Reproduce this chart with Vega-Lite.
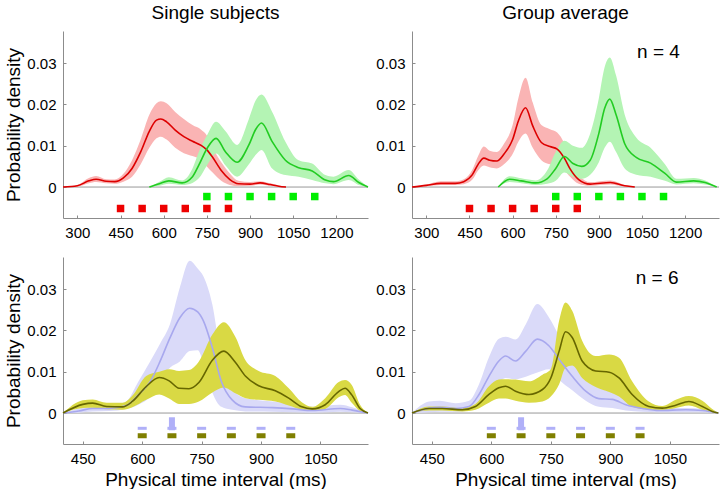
{
  "$schema": "https://vega.github.io/schema/vega-lite/v6.json",
  "padding": {"left": 4, "top": 4, "right": 0, "bottom": 0},
  "datasets": {
    "tl": [
      {"s":"red","x":250,"m":0,"lo":0,"hi":0},{"s":"red","x":300,"m":0.0003,"lo":0.0001,"hi":0.0005},{"s":"red","x":340,"m":0.0015,"lo":0.0009,"hi":0.0022},{"s":"red","x":365,"m":0.0019,"lo":0.0012,"hi":0.0027},{"s":"red","x":400,"m":0.0014,"lo":0.0009,"hi":0.0019},{"s":"red","x":430,"m":0.0013,"lo":0.0008,"hi":0.0018},{"s":"red","x":460,"m":0.0022,"lo":0.0013,"hi":0.0032},{"s":"red","x":490,"m":0.0045,"lo":0.0025,"hi":0.0065},{"s":"red","x":520,"m":0.0085,"lo":0.0055,"hi":0.0115},{"s":"red","x":550,"m":0.0135,"lo":0.0095,"hi":0.0175},{"s":"red","x":575,"m":0.0162,"lo":0.0118,"hi":0.0203},{"s":"red","x":590,"m":0.0165,"lo":0.0122,"hi":0.0208},{"s":"red","x":610,"m":0.0158,"lo":0.0115,"hi":0.0203},{"s":"red","x":640,"m":0.0138,"lo":0.0095,"hi":0.0182},{"s":"red","x":670,"m":0.0122,"lo":0.0082,"hi":0.0165},{"s":"red","x":700,"m":0.0111,"lo":0.0075,"hi":0.015},{"s":"red","x":730,"m":0.0101,"lo":0.0065,"hi":0.0139},{"s":"red","x":750,"m":0.009,"lo":0.005,"hi":0.0125},{"s":"red","x":770,"m":0.0072,"lo":0.0035,"hi":0.0095},{"s":"red","x":800,"m":0.004,"lo":0.0015,"hi":0.006},{"s":"red","x":830,"m":0.0018,"lo":0.0005,"hi":0.0033},{"s":"red","x":860,"m":0.0008,"lo":0.0002,"hi":0.0015},{"s":"red","x":900,"m":0.0007,"lo":0.0003,"hi":0.0012},{"s":"red","x":935,"m":0.001,"lo":0.0006,"hi":0.0014},{"s":"red","x":970,"m":0.0006,"lo":0.0003,"hi":0.0009},{"s":"red","x":1000,"m":0.0002,"lo":0.0001,"hi":0.0004},{"s":"red","x":1025,"m":0,"lo":0,"hi":0},
      {"s":"green","x":550,"m":0,"lo":0,"hi":0},{"s":"green","x":585,"m":0.0008,"lo":0.0003,"hi":0.0013},{"s":"green","x":618,"m":0.0015,"lo":0.0008,"hi":0.0024},{"s":"green","x":664,"m":0.001,"lo":0.0005,"hi":0.0016},{"s":"green","x":700,"m":0.0025,"lo":0.001,"hi":0.0045},{"s":"green","x":722,"m":0.0053,"lo":0.0021,"hi":0.0085},{"s":"green","x":751,"m":0.0094,"lo":0.0053,"hi":0.0126},{"s":"green","x":782,"m":0.0118,"lo":0.0081,"hi":0.0158},{"s":"green","x":815,"m":0.0085,"lo":0.0052,"hi":0.0135},{"s":"green","x":855,"m":0.006,"lo":0.0025,"hi":0.0102},{"s":"green","x":896,"m":0.0102,"lo":0.0055,"hi":0.0165},{"s":"green","x":920,"m":0.014,"lo":0.0078,"hi":0.021},{"s":"green","x":940,"m":0.0155,"lo":0.009,"hi":0.0224},{"s":"green","x":977,"m":0.011,"lo":0.0045,"hi":0.0182},{"s":"green","x":1023,"m":0.0065,"lo":0.0029,"hi":0.011},{"s":"green","x":1069,"m":0.0047,"lo":0.0025,"hi":0.0065},{"s":"green","x":1116,"m":0.0039,"lo":0.0017,"hi":0.0057},{"s":"green","x":1162,"m":0.0017,"lo":0.0009,"hi":0.0029},{"s":"green","x":1190,"m":0.0013,"lo":0.0007,"hi":0.0025},{"s":"green","x":1243,"m":0.0028,"lo":0.0017,"hi":0.0041},{"s":"green","x":1278,"m":0.0011,"lo":0.0005,"hi":0.0018},{"s":"green","x":1310,"m":0,"lo":0,"hi":0}
    ],
    "tr": [
      {"s":"red","x":250,"m":0,"lo":0,"hi":0},{"s":"red","x":300,"m":0.0004,"lo":0.0002,"hi":0.0006},{"s":"red","x":350,"m":0.0009,"lo":0.0005,"hi":0.0014},{"s":"red","x":400,"m":0.0009,"lo":0.0005,"hi":0.0014},{"s":"red","x":430,"m":0.0013,"lo":0.0007,"hi":0.0019},{"s":"red","x":460,"m":0.003,"lo":0.0018,"hi":0.0042},{"s":"red","x":480,"m":0.0055,"lo":0.004,"hi":0.0075},{"s":"red","x":500,"m":0.007,"lo":0.0052,"hi":0.0098},{"s":"red","x":520,"m":0.0065,"lo":0.0048,"hi":0.0088},{"s":"red","x":545,"m":0.0063,"lo":0.0045,"hi":0.0085},{"s":"red","x":570,"m":0.008,"lo":0.0055,"hi":0.0105},{"s":"red","x":600,"m":0.0115,"lo":0.008,"hi":0.015},{"s":"red","x":620,"m":0.016,"lo":0.011,"hi":0.0215},{"s":"red","x":645,"m":0.0192,"lo":0.013,"hi":0.0265},{"s":"red","x":670,"m":0.0148,"lo":0.0095,"hi":0.0205},{"s":"red","x":700,"m":0.0108,"lo":0.0065,"hi":0.015},{"s":"red","x":730,"m":0.0098,"lo":0.0055,"hi":0.014},{"s":"red","x":755,"m":0.0092,"lo":0.005,"hi":0.0132},{"s":"red","x":780,"m":0.007,"lo":0.004,"hi":0.0105},{"s":"red","x":800,"m":0.0044,"lo":0.0025,"hi":0.0065},{"s":"red","x":830,"m":0.0018,"lo":0.0008,"hi":0.003},{"s":"red","x":870,"m":0.0007,"lo":0.0003,"hi":0.0012},{"s":"red","x":940,"m":0.0011,"lo":0.0006,"hi":0.0016},{"s":"red","x":990,"m":0.0003,"lo":0.0001,"hi":0.0005},{"s":"red","x":1025,"m":0,"lo":0,"hi":0},
      {"s":"green","x":550,"m":0,"lo":0,"hi":0},{"s":"green","x":590,"m":0.0019,"lo":0.0012,"hi":0.0026},{"s":"green","x":630,"m":0.0015,"lo":0.0009,"hi":0.0021},{"s":"green","x":680,"m":0.001,"lo":0.0005,"hi":0.0016},{"s":"green","x":720,"m":0.002,"lo":0.0008,"hi":0.004},{"s":"green","x":750,"m":0.0045,"lo":0.0015,"hi":0.0085},{"s":"green","x":780,"m":0.0074,"lo":0.0035,"hi":0.0112},{"s":"green","x":810,"m":0.0057,"lo":0.0025,"hi":0.01},{"s":"green","x":840,"m":0.005,"lo":0.002,"hi":0.0095},{"s":"green","x":870,"m":0.0065,"lo":0.003,"hi":0.013},{"s":"green","x":900,"m":0.013,"lo":0.006,"hi":0.0215},{"s":"green","x":920,"m":0.019,"lo":0.0095,"hi":0.029},{"s":"green","x":938,"m":0.0213,"lo":0.011,"hi":0.0314},{"s":"green","x":960,"m":0.0175,"lo":0.0085,"hi":0.027},{"s":"green","x":990,"m":0.0105,"lo":0.0045,"hi":0.0175},{"s":"green","x":1030,"m":0.0072,"lo":0.003,"hi":0.012},{"s":"green","x":1080,"m":0.0058,"lo":0.0025,"hi":0.0095},{"s":"green","x":1130,"m":0.0033,"lo":0.0015,"hi":0.0055},{"s":"green","x":1170,"m":0.0012,"lo":0.0006,"hi":0.002},{"s":"green","x":1230,"m":0.0015,"lo":0.0009,"hi":0.0022},{"s":"green","x":1270,"m":0.0011,"lo":0.0006,"hi":0.0016},{"s":"green","x":1310,"m":0,"lo":0,"hi":0}
    ],
    "bl": [
      {"s":"lav","x":400,"m":0,"lo":0,"hi":0},{"s":"lav","x":440,"m":0.0005,"lo":0.0001,"hi":0.0011},{"s":"lav","x":475,"m":0.0011,"lo":0.0004,"hi":0.0015},{"s":"lav","x":517,"m":0.0011,"lo":0.0005,"hi":0.0015},{"s":"lav","x":560,"m":0.0018,"lo":0.001,"hi":0.0028},{"s":"lav","x":590,"m":0.0044,"lo":0.002,"hi":0.0076},{"s":"lav","x":620,"m":0.0076,"lo":0.004,"hi":0.0125},{"s":"lav","x":645,"m":0.0125,"lo":0.008,"hi":0.0168},{"s":"lav","x":670,"m":0.0182,"lo":0.011,"hi":0.0215},{"s":"lav","x":695,"m":0.0231,"lo":0.0125,"hi":0.0304},{"s":"lav","x":720,"m":0.0254,"lo":0.015,"hi":0.0369},{"s":"lav","x":740,"m":0.0245,"lo":0.0152,"hi":0.035},{"s":"lav","x":755,"m":0.0222,"lo":0.012,"hi":0.033},{"s":"lav","x":777,"m":0.0158,"lo":0.005,"hi":0.0263},{"s":"lav","x":800,"m":0.0076,"lo":0.0015,"hi":0.013},{"s":"lav","x":827,"m":0.0032,"lo":0.0008,"hi":0.006},{"s":"lav","x":860,"m":0.0015,"lo":0.0004,"hi":0.0036},{"s":"lav","x":930,"m":0.0013,"lo":0.0003,"hi":0.0028},{"s":"lav","x":980,"m":0.001,"lo":0.0002,"hi":0.0022},{"s":"lav","x":1030,"m":0.0006,"lo":0.0001,"hi":0.0015},{"s":"lav","x":1100,"m":0.0011,"lo":0.0003,"hi":0.002},{"s":"lav","x":1130,"m":0.0007,"lo":0.0002,"hi":0.0014},{"s":"lav","x":1170,"m":0,"lo":0,"hi":0},
      {"s":"olv","x":400,"m":0,"lo":0,"hi":0},{"s":"olv","x":450,"m":0.0021,"lo":0.0012,"hi":0.0031},{"s":"olv","x":475,"m":0.0024,"lo":0.0013,"hi":0.0033},{"s":"olv","x":510,"m":0.0016,"lo":0.0009,"hi":0.0025},{"s":"olv","x":550,"m":0.0015,"lo":0.0008,"hi":0.0025},{"s":"olv","x":575,"m":0.0028,"lo":0.0014,"hi":0.0042},{"s":"olv","x":610,"m":0.0064,"lo":0.0032,"hi":0.009},{"s":"olv","x":643,"m":0.0086,"lo":0.0045,"hi":0.01},{"s":"olv","x":668,"m":0.0078,"lo":0.0035,"hi":0.0106},{"s":"olv","x":693,"m":0.006,"lo":0.0022,"hi":0.0102},{"s":"olv","x":718,"m":0.0059,"lo":0.0022,"hi":0.0104},{"s":"olv","x":743,"m":0.0074,"lo":0.0028,"hi":0.0125},{"s":"olv","x":777,"m":0.0128,"lo":0.005,"hi":0.019},{"s":"olv","x":806,"m":0.015,"lo":0.0062,"hi":0.022},{"s":"olv","x":835,"m":0.0123,"lo":0.0048,"hi":0.0185},{"s":"olv","x":861,"m":0.0089,"lo":0.0036,"hi":0.0127},{"s":"olv","x":894,"m":0.0066,"lo":0.0032,"hi":0.0102},{"s":"olv","x":936,"m":0.0054,"lo":0.0028,"hi":0.009},{"s":"olv","x":970,"m":0.0036,"lo":0.0018,"hi":0.006},{"s":"olv","x":1003,"m":0.0015,"lo":0.0008,"hi":0.0026},{"s":"olv","x":1029,"m":0.001,"lo":0.0006,"hi":0.0015},{"s":"olv","x":1062,"m":0.002,"lo":0.001,"hi":0.0036},{"s":"olv","x":1096,"m":0.0052,"lo":0.0038,"hi":0.0075},{"s":"olv","x":1112,"m":0.006,"lo":0.0044,"hi":0.008},{"s":"olv","x":1129,"m":0.0044,"lo":0.0025,"hi":0.0068},{"s":"olv","x":1150,"m":0.0011,"lo":0.0005,"hi":0.002},{"s":"olv","x":1170,"m":0,"lo":0,"hi":0}
    ],
    "br": [
      {"s":"lav","x":400,"m":0,"lo":0,"hi":0},{"s":"lav","x":443,"m":0.0012,"lo":0.0002,"hi":0.0028},{"s":"lav","x":470,"m":0.0014,"lo":0.0003,"hi":0.003},{"s":"lav","x":510,"m":0.0011,"lo":0.0003,"hi":0.0024},{"s":"lav","x":544,"m":0.0016,"lo":0.0006,"hi":0.003},{"s":"lav","x":569,"m":0.0045,"lo":0.002,"hi":0.007},{"s":"lav","x":594,"m":0.0089,"lo":0.005,"hi":0.0135},{"s":"lav","x":619,"m":0.0126,"lo":0.0075,"hi":0.018},{"s":"lav","x":636,"m":0.0138,"lo":0.0085,"hi":0.0185},{"s":"lav","x":661,"m":0.0126,"lo":0.0082,"hi":0.0178},{"s":"lav","x":687,"m":0.015,"lo":0.0088,"hi":0.0215},{"s":"lav","x":716,"m":0.0179,"lo":0.0098,"hi":0.0264},{"s":"lav","x":745,"m":0.0163,"lo":0.0106,"hi":0.0232},{"s":"lav","x":771,"m":0.013,"lo":0.008,"hi":0.0187},{"s":"lav","x":804,"m":0.0089,"lo":0.0055,"hi":0.0142},{"s":"lav","x":838,"m":0.0053,"lo":0.003,"hi":0.0093},{"s":"lav","x":871,"m":0.0035,"lo":0.0015,"hi":0.0061},{"s":"lav","x":905,"m":0.0033,"lo":0.0012,"hi":0.0053},{"s":"lav","x":939,"m":0.002,"lo":0.0006,"hi":0.0037},{"s":"lav","x":981,"m":0.0011,"lo":0.0003,"hi":0.002},{"s":"lav","x":1023,"m":0.0006,"lo":0.0002,"hi":0.0012},{"s":"lav","x":1090,"m":0.0008,"lo":0.0002,"hi":0.0012},{"s":"lav","x":1132,"m":0.0006,"lo":0.0002,"hi":0.001},{"s":"lav","x":1172,"m":0,"lo":0,"hi":0},
      {"s":"olv","x":400,"m":0,"lo":0,"hi":0},{"s":"olv","x":443,"m":0.0011,"lo":0.0006,"hi":0.0016},{"s":"olv","x":476,"m":0.0011,"lo":0.0006,"hi":0.0016},{"s":"olv","x":527,"m":0.0008,"lo":0.0004,"hi":0.0012},{"s":"olv","x":560,"m":0.0016,"lo":0.0008,"hi":0.0022},{"s":"olv","x":594,"m":0.0045,"lo":0.0025,"hi":0.0065},{"s":"olv","x":619,"m":0.0061,"lo":0.0035,"hi":0.0081},{"s":"olv","x":636,"m":0.0065,"lo":0.0035,"hi":0.0082},{"s":"olv","x":661,"m":0.0053,"lo":0.003,"hi":0.0081},{"s":"olv","x":695,"m":0.0045,"lo":0.0025,"hi":0.0077},{"s":"olv","x":729,"m":0.0057,"lo":0.0028,"hi":0.0093},{"s":"olv","x":750,"m":0.0085,"lo":0.004,"hi":0.0106},{"s":"olv","x":771,"m":0.015,"lo":0.007,"hi":0.0224},{"s":"olv","x":787,"m":0.0197,"lo":0.011,"hi":0.0268},{"s":"olv","x":804,"m":0.0183,"lo":0.0115,"hi":0.0248},{"s":"olv","x":829,"m":0.0126,"lo":0.0085,"hi":0.0175},{"s":"olv","x":863,"m":0.0102,"lo":0.0063,"hi":0.0138},{"s":"olv","x":897,"m":0.0099,"lo":0.0051,"hi":0.0142},{"s":"olv","x":922,"m":0.0085,"lo":0.004,"hi":0.0134},{"s":"olv","x":955,"m":0.0045,"lo":0.0015,"hi":0.0077},{"s":"olv","x":997,"m":0.0016,"lo":0.0008,"hi":0.0028},{"s":"olv","x":1031,"m":0.0012,"lo":0.0007,"hi":0.0017},{"s":"olv","x":1065,"m":0.0019,"lo":0.0012,"hi":0.0032},{"s":"olv","x":1098,"m":0.0028,"lo":0.0018,"hi":0.0041},{"s":"olv","x":1132,"m":0.0016,"lo":0.0008,"hi":0.003},{"s":"olv","x":1157,"m":0.0004,"lo":0.0002,"hi":0.001},{"s":"olv","x":1172,"m":0,"lo":0,"hi":0}
    ],
    "mtop": [
      {"s":"red","x":450},{"s":"red","x":525},{"s":"red","x":600},{"s":"red","x":675},{"s":"red","x":750},{"s":"red","x":825},
      {"s":"green","x":750},{"s":"green","x":825},{"s":"green","x":900},{"s":"green","x":975},{"s":"green","x":1050},{"s":"green","x":1125}
    ],
    "mbot": [
      {"s":"lav","x":600},{"s":"lav","x":675},{"s":"lav","x":750},{"s":"lav","x":825},{"s":"lav","x":900},{"s":"lav","x":975},
      {"s":"olv","x":600},{"s":"olv","x":675},{"s":"olv","x":750},{"s":"olv","x":825},{"s":"olv","x":900},{"s":"olv","x":975},
      {"s":"lavbig","x":675}
    ],
    "one": [{"k": 1}]
  },
  "vconcat": [
    {
      "hconcat": [
        {
          "width": 305, "height": 187,
          "title": "Single subjects",
          "data": {"name": "tl"},
          "layer": [
            {"data": {"name": "one"}, "mark": {"type": "rule", "color": "#999999", "strokeWidth": 1}, "encoding": {"y": {"datum": 0, "type": "quantitative", "scale": {"domain": [-0.0075, 0.0378], "nice": false, "zero": false}, "axis": {"values": [0, 0.01, 0.02, 0.03], "labelExpr": "datum.value === 0 ? '0' : format(datum.value, '.2f')", "title": "Probability density"}}}},
            {"transform": [{"filter": "datum.s === 'red'"}], "mark": {"type": "area", "color": "#fab4b4", "interpolate": "monotone"}, "encoding": {"x": {"field": "x", "type": "quantitative", "scale": {"domain": [250, 1310], "nice": false, "zero": false}, "axis": {"values": [300, 450, 600, 750, 900, 1050, 1200], "format": "d", "title": null}}, "y": {"field": "lo", "type": "quantitative"}, "y2": {"field": "hi"}}},
            {"transform": [{"filter": "datum.s === 'green'"}], "mark": {"type": "area", "color": "#b4f4b4", "interpolate": "monotone"}, "encoding": {"x": {"field": "x", "type": "quantitative"}, "y": {"field": "lo", "type": "quantitative"}, "y2": {"field": "hi"}}},
            {"transform": [{"filter": "datum.s === 'red'"}], "mark": {"type": "line", "color": "#dd0000", "strokeWidth": 1.6, "interpolate": "monotone"}, "encoding": {"x": {"field": "x", "type": "quantitative"}, "y": {"field": "m", "type": "quantitative"}}},
            {"transform": [{"filter": "datum.s === 'green'"}], "mark": {"type": "line", "color": "#22cc22", "strokeWidth": 1.6, "interpolate": "monotone"}, "encoding": {"x": {"field": "x", "type": "quantitative"}, "y": {"field": "m", "type": "quantitative"}}},
            {"data": {"name": "mtop"}, "transform": [{"filter": "datum.s === 'red'"}], "mark": {"type": "square", "color": "#ee0000", "opacity": 1, "size": 56}, "encoding": {"x": {"field": "x", "type": "quantitative"}, "y": {"datum": -0.0052, "type": "quantitative"}}},
            {"data": {"name": "mtop"}, "transform": [{"filter": "datum.s === 'green'"}], "mark": {"type": "square", "color": "#00ee00", "opacity": 1, "size": 56}, "encoding": {"x": {"field": "x", "type": "quantitative"}, "y": {"datum": -0.0023, "type": "quantitative"}}}
          ]
        },
        {
          "width": 307, "height": 187,
          "title": "Group average",
          "data": {"name": "tr"},
          "layer": [
            {"data": {"name": "one"}, "mark": {"type": "rule", "color": "#999999", "strokeWidth": 1}, "encoding": {"y": {"datum": 0, "type": "quantitative", "scale": {"domain": [-0.0075, 0.0378], "nice": false, "zero": false}, "axis": {"values": [0, 0.01, 0.02, 0.03], "labelExpr": "datum.value === 0 ? '0' : format(datum.value, '.2f')", "title": null}}}},
            {"transform": [{"filter": "datum.s === 'red'"}], "mark": {"type": "area", "color": "#fab4b4", "interpolate": "monotone"}, "encoding": {"x": {"field": "x", "type": "quantitative", "scale": {"domain": [250, 1318], "nice": false, "zero": false}, "axis": {"values": [300, 450, 600, 750, 900, 1050, 1200], "format": "d", "title": null}}, "y": {"field": "lo", "type": "quantitative"}, "y2": {"field": "hi"}}},
            {"transform": [{"filter": "datum.s === 'green'"}], "mark": {"type": "area", "color": "#b4f4b4", "interpolate": "monotone"}, "encoding": {"x": {"field": "x", "type": "quantitative"}, "y": {"field": "lo", "type": "quantitative"}, "y2": {"field": "hi"}}},
            {"transform": [{"filter": "datum.s === 'red'"}], "mark": {"type": "line", "color": "#dd0000", "strokeWidth": 1.6, "interpolate": "monotone"}, "encoding": {"x": {"field": "x", "type": "quantitative"}, "y": {"field": "m", "type": "quantitative"}}},
            {"transform": [{"filter": "datum.s === 'green'"}], "mark": {"type": "line", "color": "#22cc22", "strokeWidth": 1.6, "interpolate": "monotone"}, "encoding": {"x": {"field": "x", "type": "quantitative"}, "y": {"field": "m", "type": "quantitative"}}},
            {"data": {"name": "mtop"}, "transform": [{"filter": "datum.s === 'red'"}], "mark": {"type": "square", "color": "#ee0000", "opacity": 1, "size": 56}, "encoding": {"x": {"field": "x", "type": "quantitative"}, "y": {"datum": -0.0052, "type": "quantitative"}}},
            {"data": {"name": "mtop"}, "transform": [{"filter": "datum.s === 'green'"}], "mark": {"type": "square", "color": "#00ee00", "opacity": 1, "size": 56}, "encoding": {"x": {"field": "x", "type": "quantitative"}, "y": {"datum": -0.0023, "type": "quantitative"}}},
            {"data": {"name": "one"}, "mark": {"type": "text", "text": "n = 4", "fontSize": 19, "align": "left", "baseline": "alphabetic", "color": "#000000"}, "encoding": {"x": {"datum": 1033, "type": "quantitative"}, "y": {"datum": 0.0312, "type": "quantitative"}}}
          ]
        }
      ],
      "spacing": 3
    },
    {
      "hconcat": [
        {
          "width": 305, "height": 187,
          "data": {"name": "bl"},
          "layer": [
            {"data": {"name": "one"}, "mark": {"type": "rule", "color": "#999999", "strokeWidth": 1}, "encoding": {"y": {"datum": 0, "type": "quantitative", "scale": {"domain": [-0.0075, 0.0378], "nice": false, "zero": false}, "axis": {"values": [0, 0.01, 0.02, 0.03], "labelExpr": "datum.value === 0 ? '0' : format(datum.value, '.2f')", "title": "Probability density"}}}},
            {"transform": [{"filter": "datum.s === 'lav'"}], "mark": {"type": "area", "color": "#dadaf9", "interpolate": "monotone"}, "encoding": {"x": {"field": "x", "type": "quantitative", "scale": {"domain": [400, 1170], "nice": false, "zero": false}, "axis": {"values": [450, 600, 750, 900, 1050], "format": "d", "title": "Physical time interval (ms)"}}, "y": {"field": "lo", "type": "quantitative"}, "y2": {"field": "hi"}}},
            {"transform": [{"filter": "datum.s === 'olv'"}], "mark": {"type": "area", "color": "#d9d944", "interpolate": "monotone"}, "encoding": {"x": {"field": "x", "type": "quantitative"}, "y": {"field": "lo", "type": "quantitative"}, "y2": {"field": "hi"}}},
            {"transform": [{"filter": "datum.s === 'lav'"}], "mark": {"type": "line", "color": "#a8a8ee", "strokeWidth": 1.6, "interpolate": "monotone"}, "encoding": {"x": {"field": "x", "type": "quantitative"}, "y": {"field": "m", "type": "quantitative"}}},
            {"transform": [{"filter": "datum.s === 'olv'"}], "mark": {"type": "line", "color": "#666600", "strokeWidth": 1.6, "interpolate": "monotone"}, "encoding": {"x": {"field": "x", "type": "quantitative"}, "y": {"field": "m", "type": "quantitative"}}},
            {"data": {"name": "mbot"}, "transform": [{"filter": "datum.s === 'lav'"}], "mark": {"type": "tick", "orient": "horizontal", "color": "#b0b0f8", "opacity": 1, "size": 9, "thickness": 3}, "encoding": {"x": {"field": "x", "type": "quantitative"}, "y": {"datum": -0.0037, "type": "quantitative"}}},
            {"data": {"name": "mbot"}, "transform": [{"filter": "datum.s === 'lavbig'"}], "mark": {"type": "tick", "orient": "horizontal", "color": "#b0b0f8", "opacity": 1, "size": 6, "thickness": 13}, "encoding": {"x": {"field": "x", "type": "quantitative"}, "y": {"datum": -0.0026, "type": "quantitative"}}},
            {"data": {"name": "mbot"}, "transform": [{"filter": "datum.s === 'olv'"}], "mark": {"type": "tick", "orient": "horizontal", "color": "#7f7f00", "opacity": 1, "size": 9, "thickness": 5}, "encoding": {"x": {"field": "x", "type": "quantitative"}, "y": {"datum": -0.0055, "type": "quantitative"}}}
          ]
        },
        {
          "width": 307, "height": 187,
          "data": {"name": "br"},
          "layer": [
            {"data": {"name": "one"}, "mark": {"type": "rule", "color": "#999999", "strokeWidth": 1}, "encoding": {"y": {"datum": 0, "type": "quantitative", "scale": {"domain": [-0.0075, 0.0378], "nice": false, "zero": false}, "axis": {"values": [0, 0.01, 0.02, 0.03], "labelExpr": "datum.value === 0 ? '0' : format(datum.value, '.2f')", "title": null}}}},
            {"transform": [{"filter": "datum.s === 'lav'"}], "mark": {"type": "area", "color": "#dadaf9", "interpolate": "monotone"}, "encoding": {"x": {"field": "x", "type": "quantitative", "scale": {"domain": [400, 1174], "nice": false, "zero": false}, "axis": {"values": [450, 600, 750, 900, 1050], "format": "d", "title": "Physical time interval (ms)"}}, "y": {"field": "lo", "type": "quantitative"}, "y2": {"field": "hi"}}},
            {"transform": [{"filter": "datum.s === 'olv'"}], "mark": {"type": "area", "color": "#d9d944", "interpolate": "monotone"}, "encoding": {"x": {"field": "x", "type": "quantitative"}, "y": {"field": "lo", "type": "quantitative"}, "y2": {"field": "hi"}}},
            {"transform": [{"filter": "datum.s === 'lav'"}], "mark": {"type": "line", "color": "#a8a8ee", "strokeWidth": 1.6, "interpolate": "monotone"}, "encoding": {"x": {"field": "x", "type": "quantitative"}, "y": {"field": "m", "type": "quantitative"}}},
            {"transform": [{"filter": "datum.s === 'olv'"}], "mark": {"type": "line", "color": "#666600", "strokeWidth": 1.6, "interpolate": "monotone"}, "encoding": {"x": {"field": "x", "type": "quantitative"}, "y": {"field": "m", "type": "quantitative"}}},
            {"data": {"name": "mbot"}, "transform": [{"filter": "datum.s === 'lav'"}], "mark": {"type": "tick", "orient": "horizontal", "color": "#b0b0f8", "opacity": 1, "size": 9, "thickness": 3}, "encoding": {"x": {"field": "x", "type": "quantitative"}, "y": {"datum": -0.0037, "type": "quantitative"}}},
            {"data": {"name": "mbot"}, "transform": [{"filter": "datum.s === 'lavbig'"}], "mark": {"type": "tick", "orient": "horizontal", "color": "#b0b0f8", "opacity": 1, "size": 6, "thickness": 13}, "encoding": {"x": {"field": "x", "type": "quantitative"}, "y": {"datum": -0.0026, "type": "quantitative"}}},
            {"data": {"name": "mbot"}, "transform": [{"filter": "datum.s === 'olv'"}], "mark": {"type": "tick", "orient": "horizontal", "color": "#7f7f00", "opacity": 1, "size": 9, "thickness": 5}, "encoding": {"x": {"field": "x", "type": "quantitative"}, "y": {"datum": -0.0055, "type": "quantitative"}}},
            {"data": {"name": "one"}, "mark": {"type": "text", "text": "n = 6", "fontSize": 19, "align": "left", "baseline": "alphabetic", "color": "#000000"}, "encoding": {"x": {"datum": 964, "type": "quantitative"}, "y": {"datum": 0.0312, "type": "quantitative"}}}
          ]
        }
      ],
      "spacing": 3
    }
  ],
  "spacing": 17,
  "resolve": {"scale": {"x": "independent", "y": "independent"}},
  "config": {
    "font": "Liberation Sans",
    "view": {"stroke": null},
    "axis": {"grid": false, "domainColor": "#8c8c8c", "tickColor": "#8c8c8c", "labelColor": "#000000", "labelFontSize": 15, "titleFontSize": 19, "titleFontWeight": "normal", "titleColor": "#000000", "labelPadding": 10, "tickSize": -3},
    "axisX": {"titlePadding": 4},
    "axisY": {"titlePadding": 3},
    "title": {"fontSize": 19, "fontWeight": "normal", "color": "#000000", "offset": 8}
  }
}
